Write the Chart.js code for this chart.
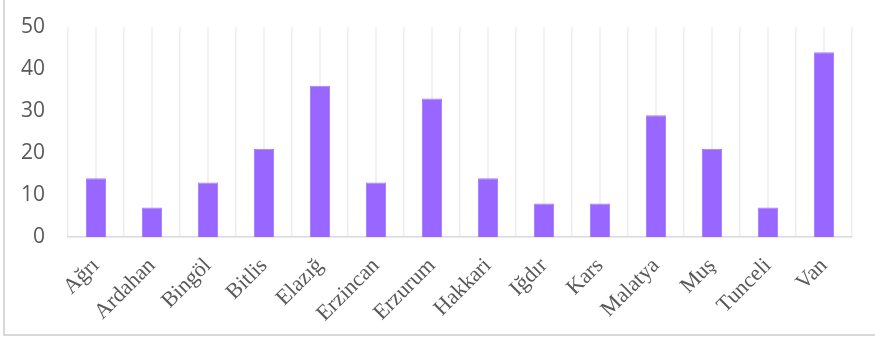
<!DOCTYPE html>
<html>
<head>
<meta charset="utf-8">
<script src="https://cdn.jsdelivr.net/npm/chart.js@4.4.0/dist/chart.umd.min.js"></script>
<style>
    html, body { margin: 0; padding: 0; background: #fff; }
    #wrap { position: relative; width: 875px; height: 339px; overflow: hidden; }
    #frame {
        position: absolute; left: 3px; top: -5px; width: 900px; height: 341px;
        border-left: 2px solid #d9d9d9; border-bottom: 2px solid #d9d9d9;
        box-sizing: border-box; pointer-events: none;
    }
    canvas { position: absolute; left: 0; top: 0; }
</style>
</head>
<body>
<div id="wrap">
    <canvas id="provinceChart" width="875" height="339"></canvas>
    <div id="frame"></div>
</div>
<script>
const provinces = ['Ağrı', 'Ardahan', 'Bingöl', 'Bitlis', 'Elazığ', 'Erzincan', 'Erzurum',
    'Hakkari', 'Iğdır', 'Kars', 'Malatya', 'Muş', 'Tunceli', 'Van'];
const counts = [14, 7, 13, 21, 36, 13, 33, 14, 8, 8, 29, 21, 7, 44];
const yTicks = [0, 10, 20, 30, 40, 50];

// extra vertical lines through the middle of each category
const centerLines = {
    id: 'centerLines',
    beforeDatasetsDraw(chart) {
        const { ctx, chartArea, scales } = chart;
        ctx.save();
        ctx.strokeStyle = '#eeeeee';
        ctx.lineWidth = 1.5;
        provinces.forEach((_, i) => {
            const x = scales.x.getPixelForValue(i);
            ctx.beginPath();
            ctx.moveTo(x, chartArea.top);
            ctx.lineTo(x, chartArea.bottom);
            ctx.stroke();
        });
        ctx.restore();
    }
};

const ctx = document.getElementById('provinceChart').getContext('2d');
new Chart(ctx, {
    type: 'bar',
    data: {
        labels: provinces,
        datasets: [{
            data: counts,
            backgroundColor: '#9966ff',
            borderColor: '#a57bff',
            borderWidth: 1,
            barPercentage: 0.36,
            categoryPercentage: 1
        }]
    },
    options: {
        responsive: false,
        animation: false,
        layout: { padding: { top: 27, right: 23, left: 0, bottom: 0 } },
        plugins: {
            legend: { display: false },
            tooltip: { enabled: false }
        },
        scales: {
            x: {
                offset: true,
                grid: { display: true, offset: true, color: '#eeeeee', lineWidth: 1.5, drawTicks: false },
                border: { display: true, color: '#d9d9d9', width: 1.5 },
                ticks: {
                    autoSkip: false,
                    maxRotation: 45,
                    minRotation: 45,
                    padding: 16,
                    color: '#595959',
                    font: { family: '"Liberation Serif", "Times New Roman", serif', size: 22 }
                },
                afterFit: s => { s.height = 102; }
            },
            y: {
                min: 0,
                max: 50,
                afterBuildTicks: s => { s.ticks = yTicks.map(v => ({ value: v })); },
                grid: { display: false, drawTicks: false },
                border: { display: false },
                ticks: {
                    padding: 23,
                    color: '#595959',
                    font: { family: '"Open Sans", sans-serif', size: 21 }
                },
                afterFit: s => {
                    s.width = 68;
                    s.paddingTop = 0;
                    s.paddingBottom = 0;
                }
            }
        }
    },
    plugins: [centerLines]
});
</script>
</body>
</html>
